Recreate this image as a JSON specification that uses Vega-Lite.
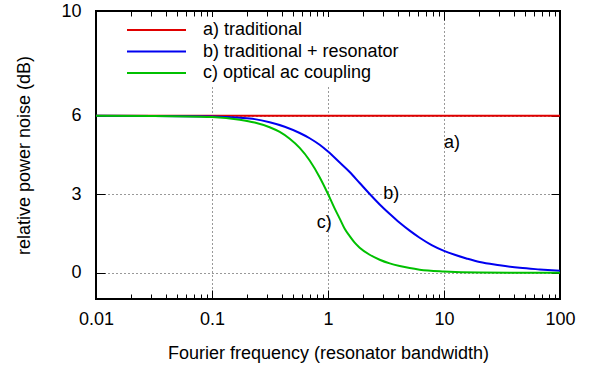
{
  "$schema": "https://vega.github.io/schema/vega-lite/v6.json",
  "width": 464,
  "height": 288,
  "autosize": "none",
  "padding": {"left": 96, "top": 11, "right": 32, "bottom": 70},
  "background": "white",
  "config": {
    "view": {"stroke": "black", "strokeWidth": 2},
    "font": "Liberation Sans",
    "axis": {
      "labelFont": "Liberation Sans",
      "labelFontSize": 18,
      "labelColor": "black",
      "titleFont": "Liberation Sans",
      "titleFontSize": 18,
      "titleFontWeight": "normal",
      "titleColor": "black",
      "domain": false,
      "tickColor": "black",
      "tickWidth": 1
    },
    "legend": {
      "labelFont": "Liberation Sans",
      "labelFontSize": 18,
      "labelColor": "black",
      "labelLimit": 500
    }
  },
  "datasets": {
    "curves": [
      {"series": "a) traditional", "f": 0.01, "dB": 6.0},
      {"series": "a) traditional", "f": 1, "dB": 6.0},
      {"series": "a) traditional", "f": 100, "dB": 6.0},

      {"series": "b) traditional + resonator", "f": 0.01, "dB": 6.0},
      {"series": "b) traditional + resonator", "f": 0.0316, "dB": 5.99},
      {"series": "b) traditional + resonator", "f": 0.1, "dB": 5.97},
      {"series": "b) traditional + resonator", "f": 0.1734, "dB": 5.92},
      {"series": "b) traditional + resonator", "f": 0.2333, "dB": 5.87},
      {"series": "b) traditional + resonator", "f": 0.3141, "dB": 5.75},
      {"series": "b) traditional + resonator", "f": 0.4236, "dB": 5.58},
      {"series": "b) traditional + resonator", "f": 0.5702, "dB": 5.34},
      {"series": "b) traditional + resonator", "f": 0.695, "dB": 5.14},
      {"series": "b) traditional + resonator", "f": 0.8475, "dB": 4.89},
      {"series": "b) traditional + resonator", "f": 1.0, "dB": 4.63},
      {"series": "b) traditional + resonator", "f": 1.262, "dB": 4.21},
      {"series": "b) traditional + resonator", "f": 1.538, "dB": 3.85},
      {"series": "b) traditional + resonator", "f": 1.876, "dB": 3.43},
      {"series": "b) traditional + resonator", "f": 2.288, "dB": 3.01},
      {"series": "b) traditional + resonator", "f": 2.791, "dB": 2.61},
      {"series": "b) traditional + resonator", "f": 3.404, "dB": 2.25},
      {"series": "b) traditional + resonator", "f": 4.15, "dB": 1.91},
      {"series": "b) traditional + resonator", "f": 5.058, "dB": 1.61},
      {"series": "b) traditional + resonator", "f": 6.166, "dB": 1.34},
      {"series": "b) traditional + resonator", "f": 7.83, "dB": 1.06},
      {"series": "b) traditional + resonator", "f": 10, "dB": 0.84},
      {"series": "b) traditional + resonator", "f": 12.37, "dB": 0.69},
      {"series": "b) traditional + resonator", "f": 15.6, "dB": 0.55},
      {"series": "b) traditional + resonator", "f": 20.3, "dB": 0.41},
      {"series": "b) traditional + resonator", "f": 30.2, "dB": 0.29},
      {"series": "b) traditional + resonator", "f": 44.96, "dB": 0.19},
      {"series": "b) traditional + resonator", "f": 66.8, "dB": 0.13},
      {"series": "b) traditional + resonator", "f": 100, "dB": 0.08},

      {"series": "c) optical ac coupling", "f": 0.01, "dB": 6.0},
      {"series": "c) optical ac coupling", "f": 0.0316, "dB": 5.99},
      {"series": "c) optical ac coupling", "f": 0.1, "dB": 5.95},
      {"series": "c) optical ac coupling", "f": 0.1734, "dB": 5.85},
      {"series": "c) optical ac coupling", "f": 0.2333, "dB": 5.74},
      {"series": "c) optical ac coupling", "f": 0.3141, "dB": 5.56},
      {"series": "c) optical ac coupling", "f": 0.3837, "dB": 5.38},
      {"series": "c) optical ac coupling", "f": 0.4677, "dB": 5.12},
      {"series": "c) optical ac coupling", "f": 0.5702, "dB": 4.77},
      {"series": "c) optical ac coupling", "f": 0.695, "dB": 4.29},
      {"series": "c) optical ac coupling", "f": 0.8475, "dB": 3.65},
      {"series": "c) optical ac coupling", "f": 1.0, "dB": 3.01},
      {"series": "c) optical ac coupling", "f": 1.143, "dB": 2.45},
      {"series": "c) optical ac coupling", "f": 1.262, "dB": 2.07},
      {"series": "c) optical ac coupling", "f": 1.393, "dB": 1.68},
      {"series": "c) optical ac coupling", "f": 1.538, "dB": 1.4},
      {"series": "c) optical ac coupling", "f": 1.698, "dB": 1.15},
      {"series": "c) optical ac coupling", "f": 1.875, "dB": 0.96},
      {"series": "c) optical ac coupling", "f": 2.287, "dB": 0.69},
      {"series": "c) optical ac coupling", "f": 2.79, "dB": 0.5},
      {"series": "c) optical ac coupling", "f": 3.404, "dB": 0.36},
      {"series": "c) optical ac coupling", "f": 4.15, "dB": 0.26},
      {"series": "c) optical ac coupling", "f": 5.058, "dB": 0.18},
      {"series": "c) optical ac coupling", "f": 6.166, "dB": 0.12},
      {"series": "c) optical ac coupling", "f": 10, "dB": 0.05},
      {"series": "c) optical ac coupling", "f": 20.3, "dB": 0.01},
      {"series": "c) optical ac coupling", "f": 100, "dB": 0.0}
    ],
    "labels": [
      {"f": 10, "dB": 4.95, "text": "a)"},
      {"f": 3, "dB": 3.0, "text": "b)"},
      {"f": 0.8, "dB": 1.9, "text": "c)"}
    ]
  },
  "resolve": {"axis": {"x": "independent", "y": "independent"}},
  "layer": [
    {
      "data": {"name": "curves"},
      "mark": {"type": "line", "interpolate": "monotone", "strokeWidth": 2, "clip": true},
      "encoding": {
        "x": {
          "field": "f", "type": "quantitative",
          "scale": {"type": "log", "domain": [0.01, 100], "nice": false},
          "axis": {
            "orient": "bottom",
            "title": "Fourier frequency (resonator bandwidth)",
            "titlePadding": 12,
            "values": [0.01,0.02,0.03,0.04,0.05,0.06,0.07,0.08,0.09,0.1,0.2,0.3,0.4,0.5,0.6,0.7,0.8,0.9,1,2,3,4,5,6,7,8,9,10,20,30,40,50,60,70,80,90,100],
            "labelExpr": "datum.value == 0.01 ? '0.01' : datum.value == 0.1 ? '0.1' : datum.value == 1 ? '1' : datum.value == 10 ? '10' : datum.value == 100 ? '100' : ''",
            "labelFlush": false,
            "labelOverlap": false,
            "labelPadding": 20,
            "tickSize": {"condition": {"test": "datum.value == 0.01 || datum.value == 0.1 || datum.value == 1 || datum.value == 10 || datum.value == 100", "value": -9}, "value": -5},
            "grid": true,
            "gridColor": "black",
            "gridDash": [1, 3],
            "gridWidth": 1,
            "gridOpacity": {"condition": {"test": "datum.value == 0.1 || datum.value == 1 || datum.value == 10", "value": 0.8}, "value": 0}
          }
        },
        "y": {
          "field": "dB", "type": "quantitative",
          "scale": {"domain": [-1, 10], "nice": false, "zero": false},
          "axis": {
            "orient": "left",
            "title": "relative power noise (dB)",
            "titlePadding": 27,
            "values": [0, 3, 6, 10],
            "tickSize": -9,
            "labelPadding": 24,
            "labelFlush": false,
            "grid": true,
            "gridColor": "black",
            "gridDash": [1, 3],
            "gridWidth": 1,
            "gridOpacity": {"condition": {"test": "datum.value < 10", "value": 0.8}, "value": 0}
          }
        },
        "color": {
          "field": "series", "type": "nominal",
          "scale": {
            "domain": ["a) traditional", "b) traditional + resonator", "c) optical ac coupling"],
            "range": ["#e00000", "#0000f0", "#00c000"]
          },
          "legend": {
            "title": null,
            "orient": "none",
            "legendX": 22,
            "legendY": 6,
            "symbolType": "M-1,0H13.75",
            "symbolSize": 64,
            "symbolStrokeWidth": 2,
            "symbolFillColor": "transparent",
            "labelOffset": 63,
            "rowPadding": 3.5,
            "fillColor": "white",
            "padding": 4
          }
        }
      }
    },
    {
      "data": {"name": "labels"},
      "mark": {"type": "point", "opacity": 0},
      "encoding": {
        "x": {
          "field": "f", "type": "quantitative",
          "axis": {
            "orient": "top",
            "title": null,
            "labels": false,
            "grid": false,
            "values": [0.01,0.02,0.03,0.04,0.05,0.06,0.07,0.08,0.09,0.1,0.2,0.3,0.4,0.5,0.6,0.7,0.8,0.9,1,2,3,4,5,6,7,8,9,10,20,30,40,50,60,70,80,90,100],
            "tickSize": {"condition": {"test": "datum.value == 0.01 || datum.value == 0.1 || datum.value == 1 || datum.value == 10 || datum.value == 100", "value": -9}, "value": -5}
          }
        },
        "y": {
          "field": "dB", "type": "quantitative",
          "axis": {
            "orient": "right",
            "title": null,
            "labels": false,
            "grid": false,
            "values": [0, 3, 6, 10],
            "tickSize": -9
          }
        }
      }
    },
    {
      "data": {"name": "labels"},
      "mark": {"type": "text", "align": "left", "baseline": "middle", "fontSize": 18, "font": "Liberation Sans", "color": "black"},
      "encoding": {
        "x": {"field": "f", "type": "quantitative", "axis": null},
        "y": {"field": "dB", "type": "quantitative", "axis": null},
        "text": {"field": "text"}
      }
    }
  ]
}
